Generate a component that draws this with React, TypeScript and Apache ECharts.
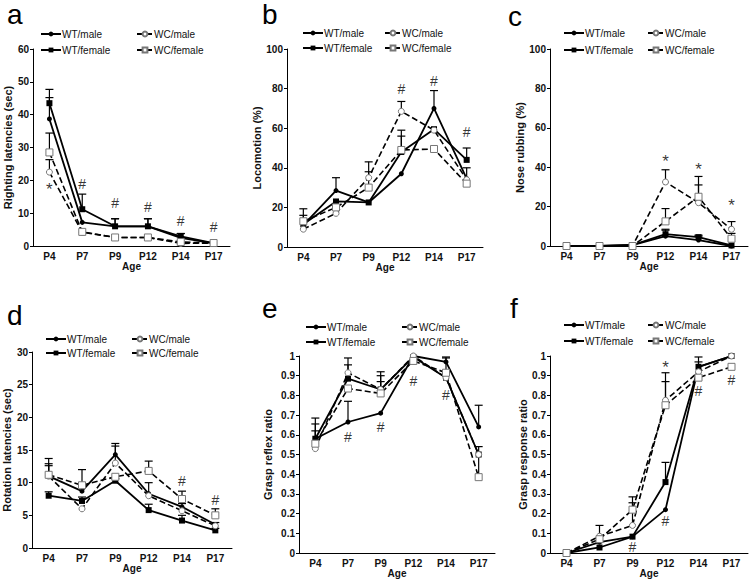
import React, { useEffect, useRef } from 'react';
import * as echarts from 'echarts';

const categories = ['P4', 'P7', 'P9', 'P12', 'P14', 'P17'];
const groups = ['WT/male', 'WT/female', 'WC/male', 'WC/female'];

// Panel a: Righting latencies (sec)
const aMeans = [
  [38.7, 7.2, 6.0, 6.0, 2.5, 0.8],
  [43.5, 11.2, 6.0, 6.0, 2.9, 0.9],
  [22.5, 4.2, 2.6, 2.6, 0.8, 0.9],
  [28.5, 4.3, 2.6, 2.6, 1.2, 0.9],
];
const aErrTop = [
  [45.2, null, 8.3, 8.3, 3.8, null],
  [47.7, 15.8, 8.3, 8.3, 3.8, null],
  [26.3, null, null, null, null, null],
  [34.4, null, null, null, null, null],
];
const aMarks = [[0, 18, '*'], [1, 19, '#'], [2, 13, '#'], [3, 12, '#'], [4, 7.6, '#'], [5, 5.9, '#']];

// Panel b: Locomotion (%)
const bMeans = [
  [11, 28.5, 22.5, 37, 70, 34.5],
  [11.5, 23, 22.5, 48, 59.5, 44],
  [9, 17, 35, 68.5, 59, 34],
  [13, 20, 30, 49, 49.5, 32],
];
const bErrTop = [
  [16, 35, null, null, 79, null],
  [19.3, null, null, 59, null, 50],
  [null, null, 43, 73.5, null, null],
  [null, null, 38, 56, null, 40],
];
const bMarks = [[3, 80, '#'], [4, 84, '#'], [5, 58, '#']];

// Panel c: Nose rubbing (%)
const cMeans = [
  [0, 0, 0.5, 5, 3, 0],
  [0, 0, 0.5, 6, 4.5, 0.3],
  [0, 0, 0, 32.5, 22, 8.5],
  [0, 0, 0, 12.5, 25, 3.7],
];
const cErrTop = [
  [null, null, null, 8, 5, null],
  [null, null, null, 8.5, 5.5, null],
  [null, null, null, 38.7, 31, 12.4],
  [null, null, null, 19, 35.3, 6.4],
];
const cMarks = [[3, 44.6, '*'], [4, 40.3, '*'], [5, 22, '*']];

// Panel d: Rotation latencies (sec)
const dMeans = [
  [11, 8.7, 14.3, 8.3, 6.3, 3.6],
  [8, 7.2, 10.3, 5.8, 4.2, 2.7],
  [11, 6, 13, 8, 5.7, 3.4],
  [11.2, 9.6, 10.9, 11.8, 7.5, 5],
];
const dErrTop = [
  [13.7, 12, 16, 10, 6.8, 3.9],
  [8.6, 7.8, 10.6, 6.7, 5, 3],
  [12.6, null, 15.6, null, null, null],
  [12.9, null, null, 13.3, 8.7, 6],
];
const dMarks = [[4, 10.2, '#'], [5, 7.4, '#']];

// Panel e: Grasp reflex ratio
const eMeans = [
  [0.58, 0.665, 0.71, 1.0, 0.97, 0.64],
  [0.58, 0.885, 0.83, 0.995, 0.89, 0.5],
  [0.53, 0.915, 0.83, 1.0, 0.89, 0.5],
  [0.555, 0.835, 0.81, 0.975, 0.915, 0.385],
];
const eErrTop = [
  [0.655, 0.77, null, null, 0.995, 0.75],
  [0.685, 0.955, 0.9, null, 0.99, null],
  [null, 0.99, 0.92, null, null, null],
  [0.62, null, 0.87, null, null, 0.54],
];
const eMarks = [[1, 0.59, '#'], [2, 0.64, '#'], [3, 0.875, '#'], [4, 0.8, '#']];

// Panel f: Grasp response ratio
const fMeans = [
  [0, 0.055, 0.083, 0.22, 0.945, 1.0],
  [0, 0.028, 0.083, 0.36, 0.945, 1.0],
  [0, 0.085, 0.14, 0.775, 0.92, 1.0],
  [0, 0.07, 0.22, 0.75, 0.89, 0.945],
];
const fErrTop = [
  [null, null, null, null, 0.97, null],
  [null, null, null, 0.46, 0.995, null],
  [null, 0.14, 0.255, 0.915, null, null],
  [null, null, 0.285, 0.87, null, null],
];
const fMarks = [[2, 0.03, '#'], [3, 0.955, '*'], [3, 0.16, '#'], [4, 0.82, '#'], [5, 0.88, '#']];

const panelData = [
  { letter: 'a', yName: 'Righting latencies (sec)', yMax: 60, yInt: 10, means: aMeans, err: aErrTop, marks: aMarks },
  { letter: 'b', yName: 'Locomotion (%)', yMax: 100, yInt: 20, means: bMeans, err: bErrTop, marks: bMarks },
  { letter: 'c', yName: 'Nose rubbing (%)', yMax: 100, yInt: 20, means: cMeans, err: cErrTop, marks: cMarks },
  { letter: 'd', yName: 'Rotation latencies (sec)', yMax: 30, yInt: 5, means: dMeans, err: dErrTop, marks: dMarks },
  { letter: 'e', yName: 'Grasp reflex ratio', yMax: 1, yInt: 0.1, means: eMeans, err: eErrTop, marks: eMarks },
  { letter: 'f', yName: 'Grasp response ratio', yMax: 1, yInt: 0.1, means: fMeans, err: fErrTop, marks: fMarks },
];

// Layout (pixels)
const layout = [
  { grid: [33, 49, 197, 197], nameGap: 14, letter: [7, 0], legL: [40, 29], legR: [136, 29], legGap: 6 },
  { grid: [287, 49, 196, 198], nameGap: 19, letter: [262, 0], legL: [302, 28], legR: [384, 28], legGap: 5 },
  { grid: [550, 49, 198, 197], nameGap: 21, letter: [508, 2], legL: [563, 28], legR: [647, 28], legGap: 7 },
  { grid: [32, 352, 200, 196], nameGap: 19, letter: [7, 301], legL: [45, 334], legR: [131, 334], legGap: 4 },
  { grid: [299, 356, 196, 197], nameGap: 26, letter: [262, 294], legL: [305, 322], legR: [401, 322], legGap: 5 },
  { grid: [550, 356, 198, 197], nameGap: 22, letter: [510, 294], legL: [563, 320], legR: [647, 320], legGap: 6 },
];

const FONT = 'Arial, "Liberation Sans", Helvetica, sans-serif';

const seriesStyles = [
  { symbol: 'circle', symbolSize: 5, dash: 'solid', color: '#000', border: '#000', lw: 1.8 },
  { symbol: 'rect', symbolSize: 6, dash: 'solid', color: '#000', border: '#000', lw: 1.8 },
  { symbol: 'circle', symbolSize: 6, dash: [6, 3], color: '#fff', border: '#777', lw: 1.6 },
  { symbol: 'rect', symbolSize: 7, dash: [6, 3], color: '#fff', border: '#777', lw: 1.6 },
];

function buildOption() {
  const grids: any[] = [];
  const xAxes: any[] = [];
  const yAxes: any[] = [];
  const series: any[] = [];
  const legends: any[] = [];
  const graphics: any[] = [];

  panelData.forEach((p, i) => {
    const L = layout[i];
    grids.push({ left: L.grid[0], top: L.grid[1], width: L.grid[2], height: L.grid[3], containLabel: false });
    xAxes.push({
      type: 'category', gridIndex: i, data: categories, boundaryGap: true,
      name: 'Age', nameLocation: 'middle', nameGap: 15,
      nameTextStyle: { fontSize: 10, fontWeight: 'bold', color: '#111', fontFamily: FONT },
      axisLine: { lineStyle: { color: '#000', width: 1 } },
      axisTick: { alignWithLabel: true, length: 3, lineStyle: { color: '#000' } },
      axisLabel: { fontSize: 10, fontWeight: 'bold', color: '#111', fontFamily: FONT, margin: 5 },
      splitLine: { show: false },
    });
    yAxes.push({
      type: 'value', gridIndex: i, min: 0, max: p.yMax, interval: p.yInt,
      name: p.yName, nameLocation: 'middle', nameGap: L.nameGap,
      nameTextStyle: { fontSize: 11, fontWeight: 'bold', color: '#111', fontFamily: FONT },
      axisLine: { show: true, lineStyle: { color: '#000', width: 1 } },
      axisTick: { show: true, length: 3, lineStyle: { color: '#000' } },
      axisLabel: { fontSize: 10, fontWeight: 'bold', color: '#111', fontFamily: FONT, margin: 4 },
      splitLine: { show: false },
    });

    // error bars
    const errData: any[] = [];
    p.err.forEach((row, g) => {
      row.forEach((top, k) => {
        if (top != null) errData.push([k, p.means[g][k], top]);
      });
    });
    series.push({
      type: 'custom', name: 'err' + i, xAxisIndex: i, yAxisIndex: i, z: 1,
      silent: true,
      encode: { x: 0, y: [1, 2] },
      data: errData,
      renderItem: (params: any, api: any) => {
        const x = api.value(0);
        const m = api.value(1);
        const t = api.value(2);
        const p1 = api.coord([x, m]);
        const p2 = api.coord([x, t]);
        const st = { stroke: '#000', lineWidth: 1.2 };
        return {
          type: 'group',
          children: [
            { type: 'line', shape: { x1: p1[0], y1: p1[1], x2: p2[0], y2: p2[1] }, style: st },
            { type: 'line', shape: { x1: p2[0] - 4, y1: p2[1], x2: p2[0] + 4, y2: p2[1] }, style: st },
          ],
        };
      },
    });

    groups.forEach((gname, g) => {
      const s = seriesStyles[g];
      series.push({
        type: 'line', name: gname, xAxisIndex: i, yAxisIndex: i, z: 3,
        data: p.means[g],
        symbol: s.symbol, symbolSize: s.symbolSize, showSymbol: true,
        lineStyle: { color: '#000', width: s.lw, type: s.dash as any },
        itemStyle: { color: s.color, borderColor: s.border, borderWidth: g >= 2 ? 1 : 0 },
        emphasis: { disabled: true },
      });
    });

    series.push({
      type: 'scatter', name: 'marks' + i, xAxisIndex: i, yAxisIndex: i, z: 5,
      symbolSize: 0, silent: true,
      data: p.marks.map((m: any) => ({
        value: m,
        label: { fontSize: m[2] === '*' ? 17 : 14, offset: m[2] === '*' ? [0, 3] : [0, 0] },
      })),
      label: {
        show: true, position: 'inside', color: '#000', fontSize: 14, fontFamily: FONT,
        formatter: (q: any) => q.value[2],
      },
    });

    const legCommon = {
      orient: 'vertical', padding: 0, itemGap: L.legGap, itemWidth: 20, itemHeight: 6,
      selectedMode: false,
      textStyle: { fontSize: 10, color: '#111', fontFamily: FONT, padding: [0, 0, 0, -4] },
    };
    legends.push({ ...legCommon, left: L.legL[0], top: L.legL[1], data: [groups[0], groups[1]] });
    legends.push({ ...legCommon, itemWidth: 16, left: L.legR[0], top: L.legR[1], data: [groups[2], groups[3]] });

    graphics.push({
      type: 'text', left: L.letter[0], top: L.letter[1],
      style: { text: p.letter, font: '28px ' + FONT, fill: '#000' },
    });
  });

  return {
    animation: false,
    backgroundColor: '#fff',
    grid: grids,
    xAxis: xAxes,
    yAxis: yAxes,
    legend: legends,
    series,
    graphic: graphics,
  };
}

export default function App() {
  const ref = useRef<HTMLDivElement>(null);
  useEffect(() => {
    document.body.style.margin = '0';
    if (!ref.current) return;
    const chart = echarts.init(ref.current, null, { renderer: 'svg' });
    chart.setOption(buildOption() as any);
    return () => chart.dispose();
  }, []);
  return <div ref={ref} style={{ width: 750, height: 582 }} />;
}
